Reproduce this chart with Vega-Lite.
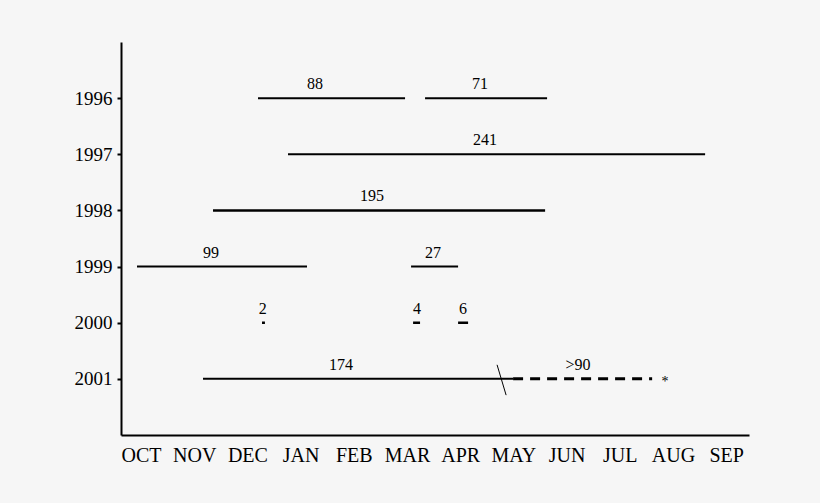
{
  "$schema": "https://vega.github.io/schema/vega-lite/v6.json",
  "description": "Periods by season, 1996-2001",
  "autosize": "none",
  "width": 628,
  "height": 393,
  "padding": {"left": 121, "top": 42, "right": 71, "bottom": 68},
  "background": "#f6f6f6",
  "config": {
    "view": {"stroke": null},
    "font": "Liberation Serif",
    "axis": {"grid": false, "domainColor": "black", "domainWidth": 2, "labelColor": "black", "labelFont": "Liberation Serif"}
  },
  "datasets": {
    "segments": [
      {"year": 1996, "start": 2.2, "end": 4.964, "kind": "normal", "label": "88", "labelX": 3.272},
      {"year": 1996, "start": 5.34, "end": 7.634, "kind": "normal", "label": "71", "labelX": 6.375},
      {"year": 1997, "start": 2.764, "end": 10.605, "kind": "normal", "label": "241", "labelX": 6.469},
      {"year": 1998, "start": 1.354, "end": 7.597, "kind": "heavy", "label": "195", "labelX": 4.344},
      {"year": 1999, "start": -0.075, "end": 3.121, "kind": "normal", "label": "99", "labelX": 1.316},
      {"year": 1999, "start": 5.077, "end": 5.961, "kind": "normal", "label": "27", "labelX": 5.491},
      {"year": 2000, "start": 2.275, "end": 2.33, "kind": "heavy", "label": "2", "labelX": 2.29},
      {"year": 2000, "start": 5.115, "end": 5.246, "kind": "heavy", "label": "4", "labelX": 5.19},
      {"year": 2000, "start": 5.961, "end": 6.149, "kind": "heavy", "label": "6", "labelX": 6.055},
      {"year": 2001, "start": 1.166, "end": 6.995, "kind": "normal", "label": "174", "labelX": 3.761},
      {"year": 2001, "start": 6.995, "end": 9.609, "kind": "dashed", "label": ">90", "labelX": 8.217}
    ],
    "slash": [
      {"x": 6.694, "x2": 6.864, "y": 2000.75, "y2": 2001.29}
    ],
    "notes": [
      {"x": 9.853, "year": 2001, "text": "*"}
    ]
  },
  "layer": [
    {
      "data": {"name": "segments"},
      "mark": {"type": "rule", "color": "black", "strokeCap": "butt"},
      "encoding": {
        "x": {
          "field": "start",
          "type": "quantitative",
          "title": null,
          "scale": {"domain": [-0.376, 11.43], "nice": false, "zero": false},
          "axis": {
            "values": [0, 1, 2, 3, 4, 5, 6, 7, 8, 9, 10, 11],
            "labelExpr": "['OCT','NOV','DEC','JAN','FEB','MAR','APR','MAY','JUN','JUL','AUG','SEP'][datum.value]",
            "ticks": false,
            "labelFontSize": 20,
            "labelPadding": 10
          }
        },
        "x2": {"field": "end"},
        "y": {
          "field": "year",
          "type": "quantitative",
          "title": null,
          "scale": {"domain": [1995, 2002], "reverse": true, "nice": false, "zero": false},
          "axis": {
            "values": [1996, 1997, 1998, 1999, 2000, 2001],
            "format": "d",
            "tickSize": 4,
            "tickWidth": 2,
            "tickColor": "black",
            "labelFontSize": 19,
            "labelPadding": 5
          }
        },
        "strokeWidth": {
          "field": "kind",
          "type": "nominal",
          "scale": {"domain": ["normal", "heavy", "dashed"], "range": [2, 3, 2]},
          "legend": null
        },
        "strokeDash": {
          "field": "kind",
          "type": "nominal",
          "scale": {"domain": ["normal", "heavy", "dashed"], "range": [[1, 0], [1, 0], [10, 7]]},
          "legend": null
        }
      }
    },
    {
      "data": {"name": "segments"},
      "mark": {"type": "text", "baseline": "alphabetic", "align": "center", "dy": -9, "fontSize": 16, "font": "Liberation Serif", "color": "black"},
      "encoding": {
        "x": {"field": "labelX", "type": "quantitative"},
        "y": {"field": "year", "type": "quantitative"},
        "text": {"field": "label"}
      }
    },
    {
      "data": {"name": "slash"},
      "mark": {"type": "rule", "color": "black", "strokeWidth": 1},
      "encoding": {
        "x": {"field": "x", "type": "quantitative"},
        "x2": {"field": "x2"},
        "y": {"field": "y", "type": "quantitative"},
        "y2": {"field": "y2"}
      }
    },
    {
      "data": {"name": "notes"},
      "mark": {"type": "text", "baseline": "middle", "align": "center", "dy": 3, "fontSize": 14, "font": "Liberation Serif", "color": "black"},
      "encoding": {
        "x": {"field": "x", "type": "quantitative"},
        "y": {"field": "year", "type": "quantitative"},
        "text": {"field": "text"}
      }
    }
  ]
}
